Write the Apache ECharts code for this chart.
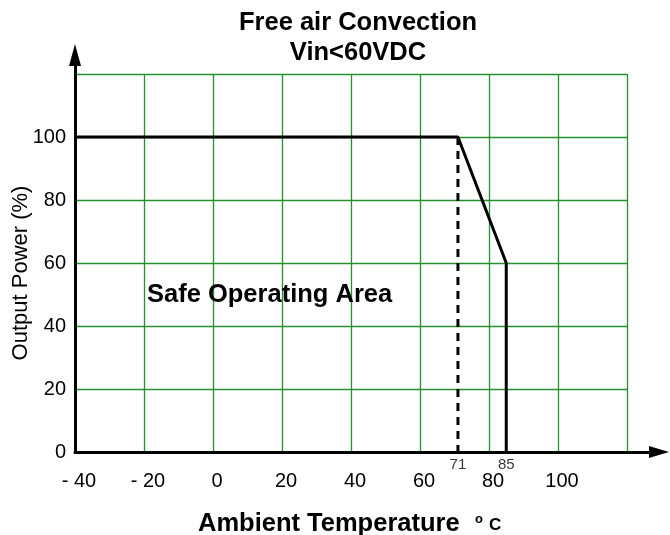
<!DOCTYPE html>
<html>
<head>
<meta charset="utf-8">
<script src="https://cdn.jsdelivr.net/npm/echarts@6/dist/echarts.min.js"></script>
<style>
html,body{margin:0;padding:0;background:#fff;}
#c{width:670px;height:535px;}
</style>
</head>
<body>
<div id="c"></div>
<script>
// Data
const xTicks = [-40, -20, 0, 20, 40, 60, 80, 100, 120];
const yTicks = [0, 20, 40, 60, 80, 100, 120];
const deratingTemp = [-40, 71, 85, 85];
const deratingPower = [100, 100, 60, 0];
const kneeTemp = [71, 71];
const kneePower = [100, 0];
const markerTemps = [71, 85];
const titleLines = ['Free air Convection', 'Vin<60VDC'];
const areaLabel = 'Safe Operating Area';
const xName = 'Ambient Temperature';
const xUnitDeg = 'o';
const xUnit = 'C';
const yName = 'Output Power (%)';

const FONT = '"Liberation Sans", Arial, sans-serif';
const GREEN = '#24912a';

const chart = echarts.init(document.getElementById('c'));
chart.setOption({
  animation: false,
  backgroundColor: '#fff',
  title: [
    {text: titleLines.join('\n'), left: 358, top: 8, textAlign: 'center', padding: 0,
     textStyle: {fontFamily: FONT, fontSize: 25.5, fontWeight: 'bold', color: '#000', lineHeight: 30}},
    {text: areaLabel, left: 147, top: 282, padding: 0,
     textStyle: {fontFamily: FONT, fontSize: 25.5, fontWeight: 'bold', color: '#000'}},
    {text: xName, left: 198, top: 511, padding: 0,
     textStyle: {fontFamily: FONT, fontSize: 25.5, fontWeight: 'bold', color: '#000'}},
    {text: xUnitDeg, left: 475, top: 513, padding: 0,
     textStyle: {fontFamily: FONT, fontSize: 13, fontWeight: 'bold', color: '#000'}},
    {text: xUnit, left: 489, top: 517, padding: 0,
     textStyle: {fontFamily: FONT, fontSize: 17, fontWeight: 'bold', color: '#000'}}
  ],
  graphic: [
    {type: 'text', x: 21, y: 273, rotation: Math.PI / 2,
     style: {text: yName, align: 'center', verticalAlign: 'middle',
       font: '22px "Liberation Sans", Arial, sans-serif', fill: '#000'}}
  ],
  grid: [
    {left: 75, right: 43, top: 74, bottom: 83, outerBoundsMode: 'none', containLabel: false},
    {left: 75, right: 11, top: 55, bottom: 83, outerBoundsMode: 'none', containLabel: false}
  ],
  xAxis: [
    {type: 'value', gridIndex: 0, min: xTicks[0], max: xTicks[xTicks.length-1], interval: 20,
     axisLine: {show: false}, axisTick: {show: false},
     splitLine: {show: true, lineStyle: {color: GREEN, width: 1.3}},
     axisLabel: {margin: 19, fontFamily: FONT, fontSize: 20, color: '#000', padding: [0, 0, 0, 8],
       formatter: v => v === 120 ? '' : (v < 0 ? '- ' + (-v) : String(v))}},
    {type: 'value', gridIndex: 1, min: 0, max: 1, z: 5,
     axisLine: {show: true, symbol: ['none', 'triangle'], symbolSize: [12, 20],
       lineStyle: {color: '#000', width: 3}},
     axisTick: {show: false}, axisLabel: {show: false}, splitLine: {show: false}}
  ],
  yAxis: [
    {type: 'value', gridIndex: 0, min: yTicks[0], max: yTicks[yTicks.length-1], interval: 20,
     axisLine: {show: false}, axisTick: {show: false},
     splitLine: {show: true, lineStyle: {color: GREEN, width: 1.3}},
     axisLabel: {margin: 9, fontFamily: FONT, fontSize: 20, color: '#000',
       formatter: v => v === 120 ? '' : String(v)}},
    {type: 'value', gridIndex: 1, min: 0, max: 1, z: 5,
     axisLine: {show: true, symbol: ['none', 'triangle'], symbolSize: [12, 22],
       lineStyle: {color: '#000', width: 3}},
     axisTick: {show: false}, axisLabel: {show: false}, splitLine: {show: false}}
  ],
  series: [
    {type: 'line', xAxisIndex: 0, yAxisIndex: 0, z: 4,
     data: deratingTemp.map((t, i) => [t, deratingPower[i]]),
     symbol: 'none', lineStyle: {color: '#000', width: 3}},
    {type: 'line', xAxisIndex: 0, yAxisIndex: 0, z: 4,
     data: kneeTemp.map((t, i) => [t, kneePower[i]]),
     symbol: 'none', lineStyle: {color: '#000', width: 3, type: [8, 6]}},
    {type: 'scatter', xAxisIndex: 0, yAxisIndex: 0, z: 4,
     data: markerTemps.map(t => [t, 0]),
     symbolSize: 0,
     label: {show: true, position: 'bottom', distance: 5, formatter: p => String(p.value[0]),
       fontFamily: FONT, fontSize: 15, color: '#000'}}
  ]
});
</script>
</body>
</html>
